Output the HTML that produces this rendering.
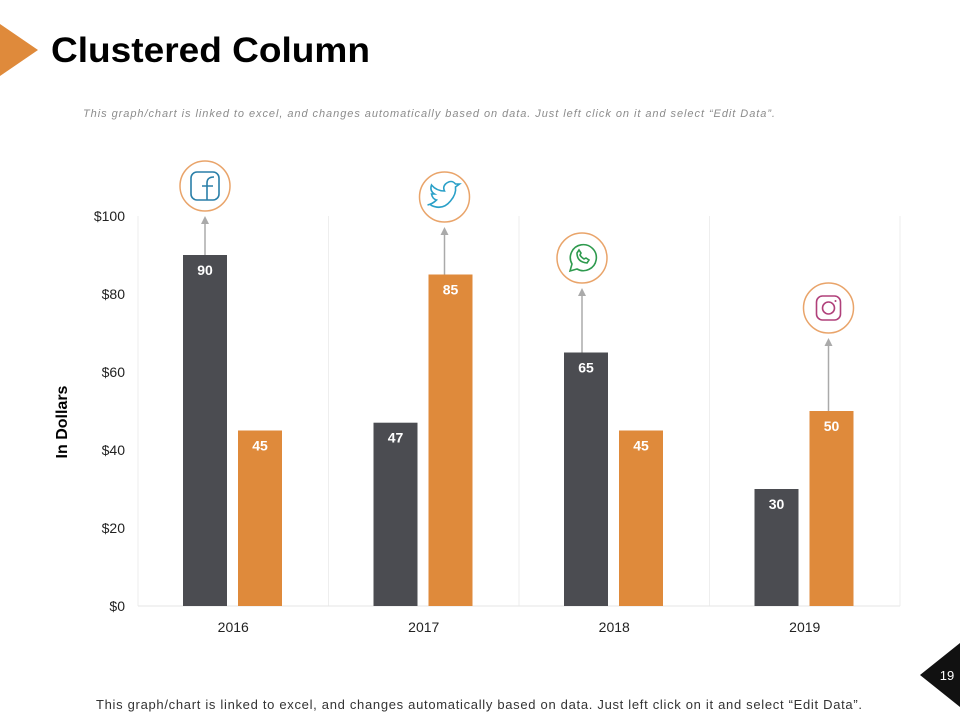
<!DOCTYPE html>
<html><head><meta charset="utf-8"><style>
body{margin:0;width:960px;height:720px;background:#fff;font-family:"Liberation Sans",sans-serif;overflow:hidden;position:relative}
</style></head><body>
<svg width="960" height="720" style="position:absolute;left:0;top:0">
<polygon points="0,24 38,50 0,76" fill="#df8a3b"/>
<text x="51" y="62" font-size="35" font-weight="bold" fill="#000" textLength="319" lengthAdjust="spacingAndGlyphs">Clustered Column</text>
<text x="83" y="117" font-size="11" font-style="italic" fill="#8c8c8c" textLength="692">This graph/chart is linked to excel, and changes automatically  based on data. Just left click on it and select “Edit Data”.</text>
<g id="chart"></g>
<text x="96" y="709" font-size="13" fill="#333" textLength="766">This graph/chart is linked to excel, and changes automatically based on data. Just left click on it and select “Edit Data”.</text>
<polygon points="960,643 920,675 960,707" fill="#111"/>
<text x="947" y="680" font-size="13" fill="#fff" text-anchor="middle">19</text>
</svg>
<script>
const categories=["2016","2017","2018","2019"];
const series1=[90,47,65,30];
const series2=[45,85,45,50];
const yTicks=[0,20,40,60,80,100];
const iconY=[186,197,258,308];
const NS="http://www.w3.org/2000/svg";
const g=document.getElementById("chart");
const x0=138,x1=900,y0=606,y1=216,yMax=100;
const bw=(x1-x0)/categories.length;
const ys=v=>y0-(y0-y1)*v/yMax;
function el(t,a,p){const e=document.createElementNS(NS,t);for(const k in a)e.setAttribute(k,a[k]);(p||g).appendChild(e);return e;}
for(let i=0;i<=categories.length;i++){const l=el("line",{x1:x0+i*bw,x2:x0+i*bw,y1:y1,y2:y0,stroke:"#eee"});

}
const base=el("line",{x1:x0,x2:x1,y1:y0,y2:y0,stroke:"#e6e6e6"});


yTicks.forEach(v=>{const t=el("text",{x:125,y:ys(v)+5,"font-size":14,"text-anchor":"end",fill:"#222"});t.textContent="$"+v;

});
const yt=el("text",{x:67,y:422,"font-size":16,"font-weight":"bold","text-anchor":"middle",transform:"rotate(-90 67 422)",fill:"#000"});yt.textContent="In Dollars";


const icons=["f","t","w","i"];
categories.forEach((c,i)=>{
 const cx=x0+i*bw;
 const vals=[series1[i],series2[i]],cols=["#4b4c51","#df8a3b"],offs=[45,100];
 vals.forEach((v,j)=>{
  const r=el("rect",{x:cx+offs[j],y:ys(v),width:44,height:y0-ys(v),fill:cols[j]});
  
  
  const t=el("text",{x:cx+offs[j]+22,y:ys(v)+20,"font-size":14,"font-weight":"bold",fill:"#fff","text-anchor":"middle"});t.textContent=v;
  
  
 });
 const j=vals[0]>=vals[1]?0:1;const ax=cx+offs[j]+22-(j?6:0)+(i==0?0:0)-(i==2?4:0)+(i==3?3:0),top=ys(vals[j]),cy=iconY[i];
 const a=el("line",{x1:ax,x2:ax,y1:top,y2:cy+36,stroke:"#aaa","stroke-width":1.5});
 
 
 const h=el("polygon",{points:`${ax-4},${cy+38} ${ax+4},${cy+38} ${ax},${cy+30}`,fill:"#aaa"});
 
 
 const ci=el("circle",{cx:ax,cy:cy,r:25,fill:"#fff",stroke:"#e9a46a","stroke-width":1.5});
 
 
 const gi=el("g",{fill:"none","stroke-width":1.6});
 
 
 if(icons[i]=="f"){el("rect",{x:ax-14,y:cy-14,width:28,height:28,rx:6,stroke:"#2a7fa8"},gi);el("path",{d:`M${ax+2} ${cy+14}V${cy-3}Q${ax+2} ${cy-9} ${ax+9} ${cy-9}M${ax-3} ${cy}H${ax+8}`,stroke:"#2a7fa8"},gi);}
 if(icons[i]=="t"){el("path",{d:`M${ax-14} ${cy+8}q12 6 20-4q6-7 5-14l4-3-4 0q-4-5-10 0q-3 3-1 7q-8 0-13-6q-2 6 3 9l-3 0q1 5 5 6q-4 4-9 5`,stroke:"#2aa0c8"},gi);}
 if(icons[i]=="w"){el("path",{d:`M${ax-12} ${cy+13}l2-7a13 13 0 1 1 5 5z`,stroke:"#2e9a4e"},gi);el("path",{d:`M${ax-5} ${cy-5}q0 9 10 10l2-3-3-2-2 1q-3-2-4-4l1-2-2-3z`,stroke:"#2e9a4e"},gi);}
 if(icons[i]=="i"){el("rect",{x:ax-12,y:cy-12,width:24,height:24,rx:6,stroke:"#b0407a"},gi);el("circle",{cx:ax,cy:cy,r:6,stroke:"#b0407a"},gi);el("circle",{cx:ax+7,cy:cy-7,r:1,fill:"#b0407a"},gi);}
 const xl=el("text",{x:cx+bw/2,y:632,"font-size":14,"text-anchor":"middle",fill:"#222"});xl.textContent=c;
 
 
});
</script>
</body></html>
